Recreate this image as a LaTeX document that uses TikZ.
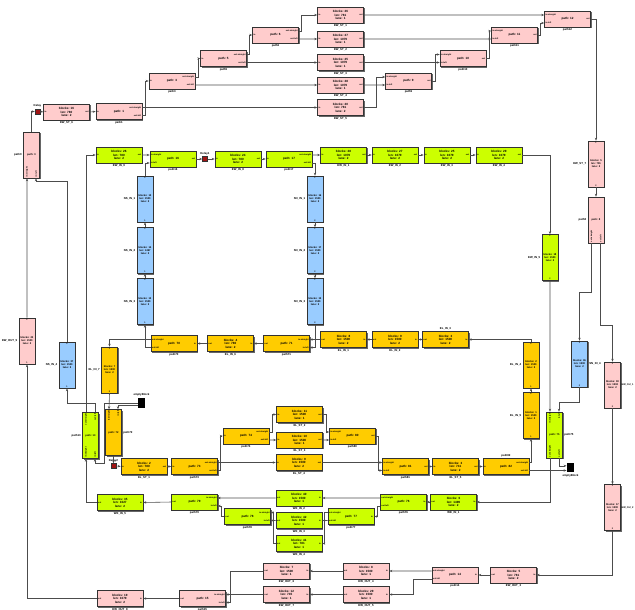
\documentclass[tikz,border=0pt]{standalone}
\usepackage{fontspec}
\setmainfont{Liberation Sans}
\usetikzlibrary{arrows.meta, shadows}
\definecolor{pinkfill}{RGB}{255,204,204}
\definecolor{limefill}{RGB}{204,255,0}
\definecolor{bluefill}{RGB}{153,204,255}
\definecolor{ambfill}{RGB}{255,204,0}
\definecolor{delayred}{RGB}{160,20,20}
\newcommand{\fblk}{\fontsize{2.6}{3.0}\selectfont\bfseries}
\newcommand{\fvblk}{\fontsize{2.2}{2.6}\selectfont\bfseries}
\newcommand{\fnm}{\fontsize{2.4}{2.8}\selectfont\bfseries}
\newcommand{\fnms}{\fontsize{2.1}{2.5}\selectfont\bfseries}
\newcommand{\fprt}{\fontsize{1.8}{2.1}\selectfont\bfseries}
\newcommand{\binfo}[3]{blocks: #1\\len: #2\\lane: #3}
\tikzset{
  blk/.style={draw=black!80, line width=0.45pt, rectangle, inner sep=0pt, align=center,
    drop shadow={shadow xshift=0.3mm, shadow yshift=-0.3mm, opacity=1, fill=black!60}},
  hblk/.style={blk, font=\fblk, minimum width=13.8mm, minimum height=4.8mm},
  vblk/.style={blk, font=\fvblk, minimum width=4.8mm, minimum height=13.8mm},
  pinkbox/.style={fill=pinkfill}, limebox/.style={fill=limefill},
  bluebox/.style={fill=bluefill}, ambbox/.style={fill=ambfill},
  nm/.style={font=\fnm, inner sep=0.4mm},
  prt/.style={font=\fprt, inner sep=0.3mm},
  vprt/.style={prt, rotate=90},
  nmb/.style={label={[nm]below:#1}}, nma/.style={label={[nm]above:#1}},
  nml/.style={label={[nm]left:#1}}, nmr/.style={label={[nm]right:#1}},
  nmrs/.style={label={[nm, font=\fnms, inner sep=0.2mm]right:#1}},
  bR/.style={hblk, label={[prt,anchor=west]west:in}, label={[prt,anchor=east]east:out}},
  bL/.style={hblk, label={[prt,anchor=east]east:in}, label={[prt,anchor=west]west:out}},
  bD/.style={vblk, label={[prt,anchor=north]north:1}, label={[prt,anchor=south]south:2}},
  bU/.style={vblk, label={[prt,anchor=south]south:1}, label={[prt,anchor=north]north:2}},
  pR/.style={hblk, label={[prt,anchor=west]west:in},
    label={[prt,anchor=east,yshift=1.2mm]east:{out:straight}},
    label={[prt,anchor=east,yshift=-1.2mm]east:{out:left}}},
  pL/.style={hblk, label={[prt,anchor=east]east:in},
    label={[prt,anchor=west,yshift=1.2mm]west:{out:straight}},
    label={[prt,anchor=west,yshift=-1.2mm]west:{out:left}}},
  mR/.style={hblk, label={[prt,anchor=east]east:out},
    label={[prt,anchor=west,yshift=1.2mm]west:{in:straight}},
    label={[prt,anchor=west,yshift=-1.2mm]west:{in:left}}},
  mL/.style={hblk, label={[prt,anchor=west]west:out},
    label={[prt,anchor=east,yshift=1.2mm]east:{in:straight}},
    label={[prt,anchor=east,yshift=-1.2mm]east:{in:left}}},
  dly/.style={draw=black!80, fill=delayred, minimum width=1.5mm, minimum height=1.5mm,
    inner sep=0pt, label={[nm]above:#1}},
  snk/.style={fill=black, minimum width=2.2mm, minimum height=2.8mm, inner sep=0pt},
  wire/.style={draw=black!70, line width=0.5pt, -{Stealth[length=0.9mm,width=0.7mm]}},
}

\begin{document}
\begin{tikzpicture}[x=0.3mm, y=-0.3mm]
\useasboundingbox (0,0) rectangle (635,610);

% pink corridor, top
\node[vblk, pinkbox, nml=path0] (p0) at (31.5,155) {path: 0};
\node[dly=Delay] (dl1) at (37.5,111.5) {};
\node[bR, pinkbox, nmb=EW\_ST\_6] (ew6) at (66.5,112) {\binfo{16}{780}{2}};
\node[pR, pinkbox, nmb=path1] (p1) at (119,111.5) {path: 1};
\node[pR, pinkbox, nmb=path3] (p3) at (172,81) {path: 3};
\node[pR, pinkbox, nmb=path5] (p5) at (223.5,58.5) {path: 5};
\node[pR, pinkbox, nmb=path6] (p6) at (275.5,35) {path: 6};
\node[bR, pinkbox, nmb=EW\_ST\_1] (ew1) at (340.5,15) {\binfo{26}{781}{1}};
\node[bR, pinkbox, nmb=EW\_ST\_2] (ew2) at (340.5,39) {\binfo{27}{1079}{1}};
\node[bR, pinkbox, nmb=EW\_ST\_3] (ew3) at (340.5,62.5) {\binfo{25}{1079}{1}};
\node[bR, pinkbox, nmb=EW\_ST\_4] (ew4) at (340.5,85) {\binfo{28}{1079}{1}};
\node[bR, pinkbox, nmb=EW\_ST\_5] (ew5) at (340.5,107.5) {\binfo{20}{781}{2}};
\node[mR, pinkbox, nmb=path9] (m4) at (408.5,81) {path: 9};
\node[mR, pinkbox, nmb=path10] (m3) at (463,58.5) {path: 10};
\node[mR, pinkbox, nmb=path11] (m2) at (514.5,35) {path: 11};
\node[mR, pinkbox, nmb=path12] (m1) at (567.5,19) {path: 12};
\node[bD, pinkbox, nml=EW\_ST\_7] (pv1) at (596,164) {\binfo{5}{781}{2}};
\node[vblk, pinkbox, nml=path8] (pv2) at (596,220) {path: 8};
\node[bD, pinkbox, nmrs=EW\_OU\_1] (pv3) at (612.5,385) {\binfo{18}{1502}{2}};
\node[bD, pinkbox, nmrs=EW\_OU\_2] (pv4) at (612.5,507.5) {\binfo{17}{1500}{2}};

% pink corridor, bottom
\node[bL, pinkbox, nmb=EW\_OUT\_3] (pb1) at (513.5,575) {\binfo{5}{781}{2}};
\node[pL, pinkbox, nmb=path14] (pbp) at (455,575) {path: 14};
\node[bL, pinkbox, nmb=EW\_OUT\_4] (pb2) at (366,571) {\binfo{8}{1500}{1}};
\node[bL, pinkbox, nmb=EW\_OUT\_5] (pb3) at (366,594.5) {\binfo{29}{1500}{1}};
\node[bL, pinkbox, nmb=EW\_OUT\_6] (pb4) at (286.5,571) {\binfo{7}{1500}{1}};
\node[bL, pinkbox, nmb=EW\_OUT\_7] (pb5) at (286.5,594.5) {\binfo{12}{745}{1}};
\node[mL, pinkbox, nmb=path15] (pbp2) at (202.5,598.5) {path: 15};
\node[bL, pinkbox, nmb=EW\_OUT\_8] (pb6) at (120,598.5) {\binfo{19}{1079}{2}};
\node[bU, pinkbox, nml=EW\_OUT\_9] (pv5) at (27,341) {\binfo{23}{1500}{2}};

% lime corridor, top
\node[bR, limebox, nmb=EW\_IN\_9] (gt1) at (119,155) {\binfo{26}{780}{2}};
\node[mR, limebox, nmb=path16] (gp1) at (173,159) {path: 16};
\node[dly=Delay1] (dl2) at (205,159) {};
\node[bR, limebox, nmb=EW\_IN\_8] (gt2) at (238,159) {\binfo{24}{780}{2}};
\node[pR, limebox, nmb=path17] (gp2) at (289,159) {path: 17};
\node[bR, limebox, nmb=EW\_IN\_1] (gt3) at (343.5,155) {\binfo{28}{1079}{2}};
\node[bR, limebox, nmb=EW\_IN\_2] (gt4) at (395,155) {\binfo{27}{1079}{2}};
\node[bR, limebox, nmb=EW\_IN\_3] (gt5) at (447,155) {\binfo{25}{1079}{2}};
\node[bR, limebox, nmb=EW\_IN\_4] (gt6) at (499,155) {\binfo{29}{1079}{2}};
\node[bD, limebox, nml=EW\_IN\_5] (gv) at (550,257.5) {\binfo{18}{1500}{2}};
\node[vblk, limebox, nml=path13] (gjl) at (90.5,435.5) {path: 13};
\node[vblk, limebox, nmr=path75] (gjr) at (554.5,435) {path: 75};

% lime corridor, bottom
\node[bL, limebox, nmb=WE\_IN\_1] (gb4) at (453.5,502) {\binfo{6}{1499}{2}};
\node[pL, limebox, nmb=path76] (gpa) at (403.5,502) {path: 76};
\node[bL, limebox, nmb=WE\_IN\_2] (gb1) at (299,498) {\binfo{40}{1500}{1}};
\node[pL, limebox, nmb=path77] (gpb) at (351,516.5) {path: 77};
\node[bL, limebox, nmb=WE\_IN\_3] (gb2) at (299,520.5) {\binfo{42}{1500}{1}};
\node[bL, limebox, nmb=WE\_IN\_4] (gb3) at (299,543.5) {\binfo{41}{781}{1}};
\node[mL, limebox, nmb=path78] (gpd) at (247.5,516.5) {path: 78};
\node[mL, limebox, nmb=path79] (gpc) at (194.5,502) {path: 79};
\node[bL, limebox, nmb=WE\_IN\_5] (gb0) at (120,502.5) {\binfo{35}{1027}{2}};

% blue columns
\node[bU, bluebox, nml=NS\_IN\_1] (bl1) at (145,199) {\binfo{12}{1500}{2}};
\node[bU, bluebox, nml=NS\_IN\_2] (bl2) at (145,250.5) {\binfo{14}{1497}{2}};
\node[bU, bluebox, nml=NS\_IN\_3] (bl3) at (145,301.5) {\binfo{13}{1500}{2}};
\node[bD, bluebox, nml=SN\_IN\_1] (br1) at (315,199) {\binfo{16}{1500}{2}};
\node[bD, bluebox, nml=SN\_IN\_2] (br2) at (315,250.5) {\binfo{17}{1500}{2}};
\node[bD, bluebox, nml=SN\_IN\_3] (br3) at (315,301.5) {\binfo{15}{1500}{2}};
\node[bU, bluebox, nml=NS\_IN\_4] (bv0) at (67,365) {\binfo{37}{1500}{2}};
\node[bD, bluebox, nmr=SN\_IN\_4] (bvr) at (579.5,364) {\binfo{36}{1500}{2}};

% amber loop
\node[pL, ambbox, nmb=path70] (yp1) at (174,343.5) {path: 70};
\node[bL, ambbox, nmb=EL\_IN\_6] (yt1) at (230.5,343.5) {\binfo{4}{780}{2}};
\node[mL, ambbox, nmb=path71] (yp2) at (286.5,343.5) {path: 71};
\node[bL, ambbox, nmb=EL\_IN\_1] (yt2) at (343.5,339.5) {\binfo{8}{1500}{2}};
\node[bL, ambbox, nmb=EL\_IN\_2] (yt3) at (395,339.5) {\binfo{9}{1500}{2}};
\node[bL, ambbox, nma=EL\_IN\_3] (yt4) at (445.5,339.5) {\binfo{3}{1500}{2}};
\node[bU, ambbox, nml=EL\_IN\_4] (yv1) at (531,365) {\binfo{2}{1500}{2}};
\node[bU, ambbox, nml=EL\_IN\_5] (yv2) at (531,415.5) {\binfo{1}{1500}{2}};
\node[bD, ambbox, nml=EL\_IN\_7] (yvl) at (109.5,370) {\binfo{7}{1500}{2}};
\node[vblk, ambbox, nmr=path72] (yvp) at (113.5,432.5) {path: 72};
\node[dly=Delay2] (dl3) at (113.5,466) {};
\node[bR, ambbox, nmb=EL\_ST\_1] (yb0) at (144,466.5) {\binfo{2}{780}{2}};
\node[pR, ambbox, nmb=path73] (yp0) at (194.5,466.5) {path: 73};
\node[pR, ambbox, nmb=path74] (ypm) at (246,436) {path: 74};
\node[bR, ambbox, nmb=EL\_ST\_2] (yb1) at (299.5,414.5) {\binfo{11}{1500}{1}};
\node[bR, ambbox, nmb=EL\_ST\_3] (yb2) at (299.5,440) {\binfo{10}{1500}{1}};
\node[bR, ambbox, nmb=EL\_ST\_4] (yb3) at (299,462.5) {\binfo{9}{1500}{2}};
\node[mR, ambbox, nmb=path80] (ypm2) at (352.5,436) {path: 80};
\node[mR, ambbox, nmb=path81] (ypn) at (405.5,466.5) {path: 81};
\node[bR, ambbox, nmb=EL\_ST\_5] (yb4) at (455.5,466.5) {\binfo{3}{741}{2}};
\node[pR, ambbox, nma=path82] (ypr) at (506,466.5) {path: 82};
\node[snk, label={[nm]above:emptyBlock}] (bkl) at (141.5,403) {};
\node[snk, label={[nm]below:emptyBlock}] (bkr) at (570.5,467.5) {};

% port points
\foreach \n in {p1,p3,p5,p6,m1,m2,m3,m4,pbp,pbp2,gp1,gp2,gpa,gpb,gpc,gpd,yp0,yp1,yp2,ypm,ypm2,ypn,ypr} {
  \coordinate (\n-wu) at ([yshift=1.2mm]\n.west);
  \coordinate (\n-wd) at ([yshift=-1.2mm]\n.west);
  \coordinate (\n-eu) at ([yshift=1.2mm]\n.east);
  \coordinate (\n-ed) at ([yshift=-1.2mm]\n.east);
}
\foreach \n in {p0,pv2,gjl,gjr,yvp} {
  \coordinate (\n-nl) at ([xshift=-1.35mm]\n.north);
  \coordinate (\n-nr) at ([xshift=1.35mm]\n.north);
  \coordinate (\n-sl) at ([xshift=-1.35mm]\n.south);
  \coordinate (\n-sr) at ([xshift=1.35mm]\n.south);
}
\foreach \n/\a/\b in {p0/{in:straight}/{in:left}, pv2/{out:straight}/{out:left}, gjl/{in:straight}/{in:left}} {
  \node[vprt, anchor=west] (\n-ta) at (\n-sl) {\a};
  \node[vprt, anchor=west] (\n-tb) at (\n-sr) {\b};
}
\foreach \n/\a/\b in {yvp/{in:straight}/{in:left}, gjr/{in:straight}/{in:left}} {
  \node[vprt, anchor=east] (\n-ta) at (\n-nl) {\a};
  \node[vprt, anchor=east] (\n-tb) at (\n-nr) {\b};
}
\node[vprt, anchor=east] (gjl-tc) at (gjl-nl) {out:straight};
\node[vprt, anchor=east] (gjl-td) at (gjl-nr) {out:left};
\node[vprt, anchor=west] (gjr-tc) at (gjr-sl) {out:straight};
\node[vprt, anchor=west] (gjr-td) at (gjr-sr) {out:left};

% pink wires
\draw[wire] (p0.north) |- (dl1.west);
\draw[wire] (dl1.east) -- (ew6.west);
\draw[wire] (ew6.east) -- (p1.west);
\draw[wire] (p1-eu) -- (ew5.west);
\draw[wire] (p1-ed) -- ++(3,0) |- (p3.west);
\draw[wire] (p3-eu) -- ++(3,0) |- (p5.west);
\draw[wire] (p3-ed) -- (ew4.west);
\draw[wire] (p5-eu) -- ++(3,0) |- (p6.west);
\draw[wire] (p5-ed) -- (ew3.west);
\draw[wire] (p6-eu) -- ++(3,0) |- (ew1.west);
\draw[wire] (p6-ed) -- (ew2.west);
\draw[wire] (ew5.east) -- ++(13,0) |- (m4-wu);
\draw[wire] (ew4.east) -- (m4-wd);
\draw[wire] (m4.east) -- ++(4,0) |- (m3-wu);
\draw[wire] (ew3.east) -- (m3-wd);
\draw[wire] (m3.east) -- ++(3,0) |- (m2-wu);
\draw[wire] (ew2.east) -- (m2-wd);
\draw[wire] (ew1.east) -- (m1-wu);
\draw[wire] (m2.east) -- ++(3,0) |- (m1-wd);
\draw[wire] (m1.east) -| (pv1.north);
\draw[wire] (pv1.south) -- (pv2.north);
\draw[wire] (pv2-sl) -- ++(0,49) -| (bvr.north);
\draw[wire] (pv2-sr) -- ++(0,82) -| (pv3.north);
\draw[wire] (pv3.south) -- (pv4.north);
\draw[wire] (pv4.south) |- (pb1.east);
\draw[wire] (pb1.west) -- (pbp.east);
\draw[wire] (pbp-wu) -- (pb2.east);
\draw[wire] (pbp-wd) -- ++(-18,0) |- (pb3.east);
\draw[wire] (pb2.west) -- (pb4.east);
\draw[wire] (pb3.west) -- (pb5.east);
\draw[wire] (pb5.west) -- (pbp2-eu);
\draw[wire] (pb4.west) -- ++(-33,0) |- (pbp2-ed);
\draw[wire] (pbp2.west) -- (pb6.east);
\draw[wire] (pb6.west) -| (pv5.south);
\draw[wire] (pv5.north) -- (p0-sl);
\draw[wire] (bv0.north) -- ++(0,-160) -| (p0-sr);

% lime wires
\draw[wire] (gjl-nl) |- (gt1.west);
\draw[wire] (gjl-nr) -- ++(0,-9) -| (bv0.south);
\draw[wire] (gt1.east) -- (gp1-wu);
\draw[wire] (bl1.north) |- (gp1-wd);
\draw[wire] (gp1.east) -- (dl2.west);
\draw[wire] (dl2.east) -- (gt2.west);
\draw[wire] (gt2.east) -- (gp2.west);
\draw[wire] (gp2-eu) -- (gt3.west);
\draw[wire] (gp2-ed) -| (br1.north);
\draw[wire] (gt3.east) -- (gt4.west);
\draw[wire] (gt4.east) -- (gt5.west);
\draw[wire] (gt5.east) -- (gt6.west);
\draw[wire] (gt6.east) -| (gv.north);
\draw[wire] (gv.south) -- (gjr-nl);
\draw[wire] (bvr.south) -- ++(0,15) -| (gjr-nr);
\draw[wire] (gjr-sl) |- (gb4.east);
\draw[wire] (gjr-sr) |- ([yshift=0.5mm]bkr.west);
\draw[wire] (gb4.west) -- (gpa.east);
\draw[wire] (gpa-wu) -- (gb1.east);
\draw[wire] (gpa-wd) -- ++(-3,0) |- (gpb.east);
\draw[wire] (gpb-wd) -- (gb2.east);
\draw[wire] (gpb-wu) -- ++(-3,0) |- (gb3.east);
\draw[wire] (gb2.west) -- (gpd-ed);
\draw[wire] (gb3.west) -- ++(-2.5,0) |- (gpd-eu);
\draw[wire] (gpd.west) -- ++(-3,0) |- (gpc-ed);
\draw[wire] (gb1.west) -- (gpc-eu);
\draw[wire] (gpc.west) -- (gb0.east);
\draw[wire] (gb0.west) -| (gjl-sl);
\draw[wire] (bkl.west) -- ++(-33,0) -- ++(0,60) -| (gjl-sr);

% blue wires
\draw[wire] (bl3.north) -- (bl2.south);
\draw[wire] (bl2.north) -- (bl1.south);
\draw[wire] (br1.south) -- (br2.north);
\draw[wire] (br2.south) -- (br3.north);
\draw[wire] (yp1-wd) -| (bl3.south);
\draw[wire] (br3.south) |- (yp2-ed);

% amber wires
\draw[wire] (ypr-eu) -| (yv2.south);
\draw[wire] (yv2.north) -- (yv1.south);
\draw[wire] (yv1.north) |- (yt4.east);
\draw[wire] (yt4.west) -- (yt3.east);
\draw[wire] (yt3.west) -- (yt2.east);
\draw[wire] (yt2.west) -- (yp2-eu);
\draw[wire] (yp2.west) -- (yt1.east);
\draw[wire] (yt1.west) -- (yp1.east);
\draw[wire] (yp1-wu) -| (yvl.north);
\draw[wire] (yvl.south) -- (yvp-nl);
\draw[wire] ([yshift=-0.6mm]bkl.west) -| (yvp-nr);
\draw[wire] (yvp.south) -- (dl3.north);
\draw[wire] (dl3.east) -- (yb0.west);
\draw[wire] (yb0.east) -- (yp0.west);
\draw[wire] (yp0-eu) -- (yb3.west);
\draw[wire] (yp0-ed) -- ++(3,0) |- (ypm.west);
\draw[wire] (ypm-eu) -- ++(3.5,0) |- (yb1.west);
\draw[wire] (ypm-ed) -- (yb2.west);
\draw[wire] (yb1.east) -- ++(3.5,0) |- (ypm2-wu);
\draw[wire] (yb2.east) -- (ypm2-wd);
\draw[wire] (ypm2.east) -- ++(3,0) |- (ypn-wd);
\draw[wire] (yb3.east) -- (ypn-wu);
\draw[wire] (ypn.east) -- (yb4.west);
\draw[wire] (yb4.east) -- (ypr.west);
\draw[wire] (ypr-ed) -- (ypr-ed -| bkr.west);
\end{tikzpicture}
\end{document}
